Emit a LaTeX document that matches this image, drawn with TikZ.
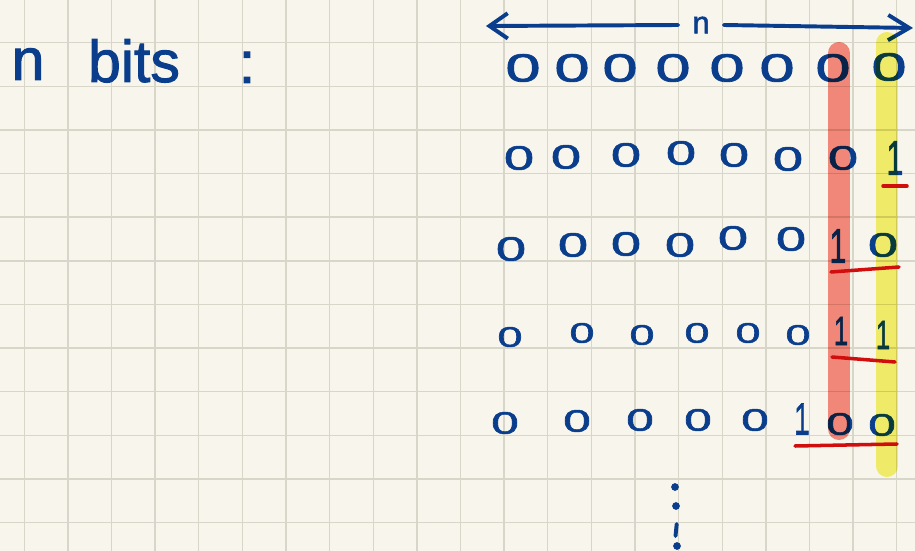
\documentclass[tikz,border=0pt]{standalone}
\usepackage{fontspec}
\setmainfont{Liberation Sans}
\newfontfamily\inkfont{Liberation Sans}[FakeBold=1.6]
\usetikzlibrary{arrows.meta}
\definecolor{paper}{RGB}{248,246,236}
\definecolor{gridline}{RGB}{216,214,200}
\definecolor{ink}{RGB}{10,62,140}
\definecolor{redink}{RGB}{208,14,14}
\definecolor{salmon}{RGB}{248,140,130}
\definecolor{marker}{RGB}{246,243,112}
% a handwritten 0 is wide, a handwritten 1 is a tall stroke
\newcommand{\bitglyph}[1]{\ifnum#1=0 \scalebox{1.6}[1]{0}\else\scalebox{0.9}[1.45]{1}\fi}

\begin{document}
\begin{tikzpicture}[x=0.025cm,y=-0.025cm,
    hand/.style={text=ink,font=\inkfont\fontsize{42}{42}\selectfont,inner sep=0pt},
    bit/.style={text=ink,inner sep=0pt,font=\inkfont\fontsize{#1}{#1}\selectfont},
    inkline/.style={draw=ink,line width=2.8pt,line cap=round},
    underline/.style={draw=redink,line width=2.5pt,line cap=round},
    hilite/.style={line width=0.55cm,line cap=round},
    dot/.style={circle,fill=ink,inner sep=0pt,minimum size=5.5pt}]

  % paper
  \path[use as bounding box,fill=paper] (0,0) rectangle (915,551);
  \foreach \k in {0,...,20}
    \draw[gridline,line width=1pt] ({24.3+43.62*\k},0) -- ({24.3+43.62*\k},551);
  \foreach \k in {0,...,11}
    \draw[gridline,line width=1pt] (0,{42.7+43.62*\k}) -- (915,{42.7+43.62*\k});

  % heading
  \node[hand,anchor=base] (nvar) at (28,80) {n};
  \node[hand,anchor=base] (bits) at (134,82) {bits};
  \node[hand,anchor=base] (colon) at (247,83) {:};

  % width arrow
  \node[bit=22,inner xsep=0.35cm] (nlen) at (701,25) {n};
  \coordinate (tipL) at (486,26);
  \coordinate (tipR) at (913,28);
  \draw[inkline,{Straight Barb[length=13pt,width=18pt]}-] (tipL) -- (nlen.west);
  \draw[inkline,-{Straight Barb[length=15pt,width=18pt]}] (nlen.east) -- (tipR);

  % counting rows
  \foreach \x/\y/\d [count=\i] in {523/68/0,572/68/0,620/68/0,673/68/0,
      727/68/0,777/68/0,833/68/0,889/67/0}
    \node[bit=28] (ra\i) at (\x,\y) {\bitglyph{\d}};
  \foreach \x/\y/\d [count=\i] in {519/158/0,566/157/0,626/155/0,681/153/0,
      734/155/0,788/159/0,843/158/0,895/158/1}
    \node[bit=24] (rb\i) at (\x,\y) {\bitglyph{\d}};
  \foreach \x/\y/\d [count=\i] in {511/249/0,573/245/0,626/244/0,680/245/0,
      733/238/0,791/239/0,838/246/1,883/245/0}
    \node[bit=24] (rc\i) at (\x,\y) {\bitglyph{\d}};
  \foreach \x/\y/\d [count=\i] in {510/337/0,582/333/0,642/335/0,697/333/0,
      748/333/0,798/335/0,841/331/1,883/335/1}
    \node[bit=20] (rd\i) at (\x,\y) {\bitglyph{\d}};
  \foreach \x/\y/\d [count=\i] in {505/423/0,577/421/0,640/420/0,698/420/0,
      755/420/0,802/419/1,840/424/0,882/425/0}
    \node[bit=22] (re\i) at (\x,\y) {\bitglyph{\d}};

  % more rows
  \node[dot] (vd1) at (675,487) {};
  \node[dot] (vd2) at (676,506) {};
  \draw[inkline] (676.7,524) -- (675.5,536);
  \node[dot] (vd3) at (677,546) {};

  % highlighter
  \begin{scope}[blend mode=multiply]
    \draw[hilite,salmon] (839,53) -- (839,429);
    \draw[hilite,marker] (887,43) -- (887,466);
  \end{scope}

  % red underlines
  \draw[underline] (883,186) -- (907,186);
  \draw[underline] (831,272) -- (899,267);
  \draw[underline] (832,357) -- (895,362);
  \draw[underline] (795,446) -- (897,444);
\end{tikzpicture}
\end{document}
